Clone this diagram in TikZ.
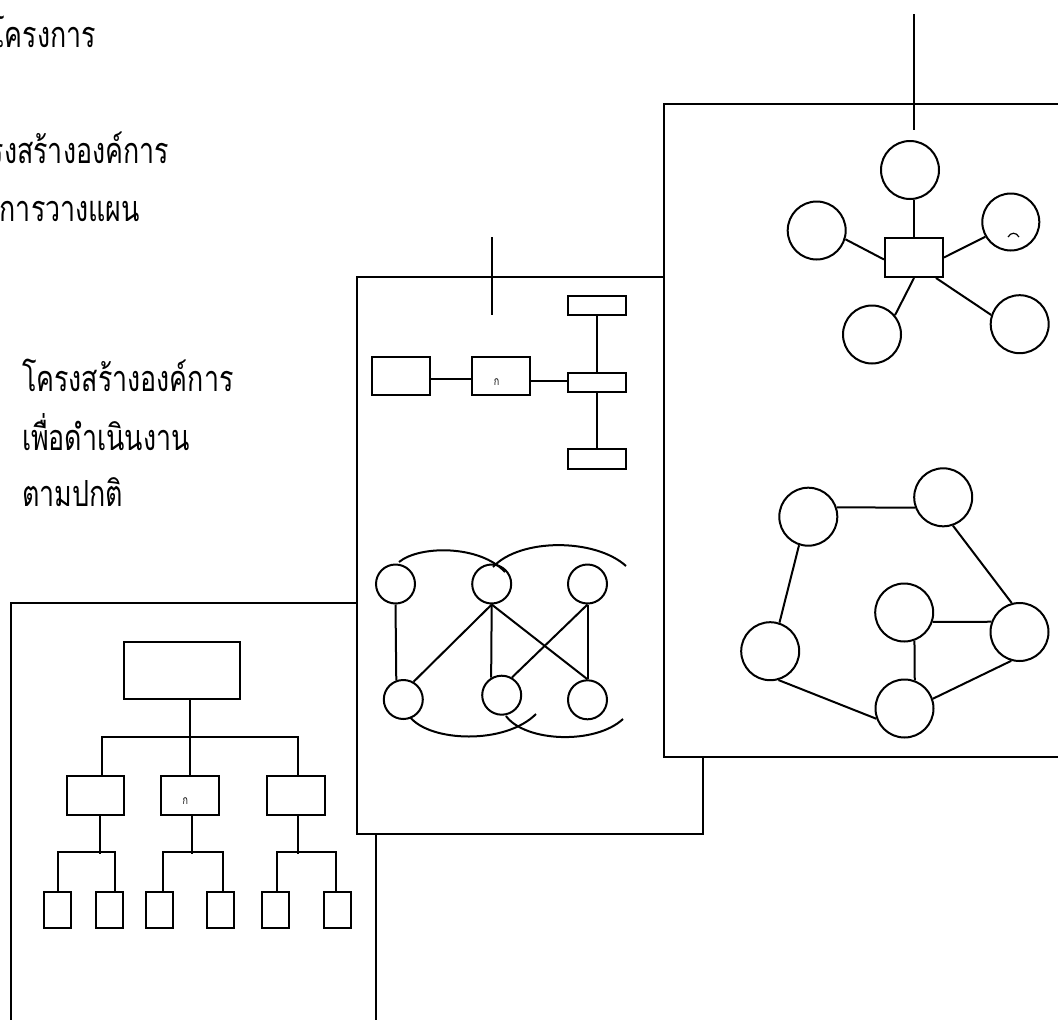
\documentclass[tikz,border=0pt]{standalone}
\usepackage{fontspec}
\newfontfamily\thaifont[Script=Thai,FakeStretch=0.745]{Loma}
\begin{document}
\begin{tikzpicture}[x=1pt,y=-1pt,line width=2pt,
  panel/.style={draw,fill=white},
  blk/.style={draw,rectangle,inner sep=0pt},
  circ/.style={draw,circle,inner sep=0pt,minimum size=#1},
  thaitxt/.style={font=\thaifont\fontsize{36}{42}\selectfont,inner sep=0pt},
  smallglyph/.style={font=\thaifont\fontsize{12}{12}\selectfont,inner sep=0pt}]
\useasboundingbox (0,0) rectangle (1058,1020);
\clip (0,0) rectangle (1058,1020);

% headings at the top left
\node[thaitxt,anchor=base east] (h1) at (97,47) {โครงการ};
\node[thaitxt,anchor=base east] (h2) at (170,163) {โครงสร้างองค์การ};
\node[thaitxt,anchor=base east] (h3) at (141,221) {เพื่อการวางแผน};

% caption of the routine structure
\node[thaitxt,anchor=base west] (n1) at (21,391) {โครงสร้างองค์การ};
\node[thaitxt,anchor=base west] (n2) at (21,450) {เพื่อดำเนินงาน};
\node[thaitxt,anchor=base west] (n3) at (21,506) {ตามปกติ};

% ---- sheet 1: hierarchy ----
\draw[panel] (11,603) rectangle (376,1040);
\node[blk,minimum width=116,minimum height=57] (top) at (182,670.5) {};
\node[blk,minimum width=57,minimum height=39] (ma) at (95.5,795.5) {};
\node[blk,minimum width=58,minimum height=39] (mb) at (190,795.5) {};
\node[blk,minimum width=58,minimum height=39] (mc) at (296,795.5) {};
\node[smallglyph] (mbk) at ([xshift=-4.7,yshift=-6]mb.center) {ก};
\foreach \n/\x in {la1/57.5,la2/109,lb1/159.5,lb2/220,lc1/275.5,lc2/337.5}
  \node[blk,minimum width=27,minimum height=36] (\n) at (\x,910) {};
\draw (top.south -| mb.north) -- (mb.north);
\draw ([xshift=6.5]ma.north) -- ++(0,-38) -| ([xshift=2]mc.north);
\draw ([xshift=4.5]ma.south) -- ++(0,38);
\draw (la1.north) -- ++(0,-39) -| ([xshift=6]la2.north);
\draw ([xshift=2]mb.south) -- ++(0,38);
\draw ([xshift=3]lb1.north) -- ++(0,-39) -| ([xshift=3]lb2.north);
\draw ([xshift=2]mc.south) -- ++(0,38);
\draw ([xshift=1.5]lc1.north) -- ++(0,-39) -| ([xshift=-1.5]lc2.north);

% ---- sheet 2: chain and network ----
\draw[panel] (357,276.5) rectangle (703,834);
\coordinate (mt1) at (491.7,237);
\coordinate (mt2) at (491.7,315);
\draw (mt1) -- (mt2);
\node[blk,minimum width=58,minimum height=38] (bl) at (401,376) {};
\node[blk,minimum width=58,minimum height=38] (bm) at (501,376) {};
\node[smallglyph] (bmk) at ([xshift=-4.3,yshift=-6]bm.center) {ก};
\node[blk,minimum width=58,minimum height=19] (rt) at (597,305.5) {};
\node[blk,minimum width=58,minimum height=19] (rm) at (597,382.5) {};
\node[blk,minimum width=58,minimum height=20] (rb) at (597,459) {};
\draw ([yshift=-3]bl.east) -- ([yshift=-3]bm.west);
\draw ([yshift=-5]bm.east) -- ([yshift=-5]bm.east -| rm.west);
\draw (rt.south) -- (rm.north);
\draw (rm.south) -- (rb.north);

\node[circ=39] (c1) at (395.5,584) {};
\node[circ=39] (c2) at (491.7,584) {};
\node[circ=39] (c3) at (587.5,584) {};
\node[circ=39] (c4) at (403.3,699.5) {};
\node[circ=39] (c5) at (501.7,695.2) {};
\node[circ=39] (c6) at (587.5,699.8) {};
\draw (c1.south) -- (c4.110);
\draw (c2.south) -- (c4.60);
\draw (c2.south) -- (c5.121);
\draw (c2.south) -- (c6.north);
\draw (c3.south) -- (c5.60);
\draw (c3.south) -- (c6.north);
\draw (399,562) .. controls (420,545) and (480,545) .. (505,572);
\draw (493,567) .. controls (520,538) and (595,538) .. (626,566);
\draw (410,717) .. controls (430,742) and (505,745) .. (536,714);
\draw (506,716) .. controls (525,742) and (595,745) .. (623,719);

% ---- sheet 3: star and ring ----
\draw[panel] (664,104) rectangle (1080,756.5);
\coordinate (rt1) at (914.3,14);
\coordinate (rt2) at (914.3,130);
\draw (rt1) -- (rt2);
\node[blk,minimum width=58,minimum height=39] (s) at (914,257.5) {};
\node[circ=58] (st) at (910,170) {};
\node[circ=58] (stl) at (816.7,230.5) {};
\node[circ=57] (str) at (1010.8,222) {};
\node[circ=58] (sbl) at (872,334.5) {};
\node[circ=58] (sbr) at (1019.7,324.2) {};
\draw (st.-82) -- (st.-82 |- s.north);
\draw (stl.-17) -- ([yshift=-2]s.west);
\draw (s.east) -- (str.210.7);
\draw (s.south) -- (sbl.40);
\draw (s.-43) -- (sbr.162);
\draw[line width=1.2pt] (1008,237) .. controls (1011,232) and (1016,232) .. (1019,237);

\node[circ=58] (ga) at (808.3,516.7) {};
\node[circ=58] (gb) at (943.2,497.3) {};
\node[circ=58] (gc) at (770.2,651.2) {};
\node[circ=58] (gd) at (904.2,612.5) {};
\node[circ=58] (ge) at (1019.5,632) {};
\node[circ=58] (gf) at (904.5,708.5) {};
\draw (ga.18) -- (gb.200);
\draw (ga.-108) -- (gc.72);
\draw (gb.-71) -- (ge.105);
\draw (gd.-18) -- (ge.160);
\draw (gd.-70) -- (gf.70);
\draw (gc.-74) -- (gf.200);
\draw (ge.-106) -- (gf.19);
\end{tikzpicture}
\end{document}
